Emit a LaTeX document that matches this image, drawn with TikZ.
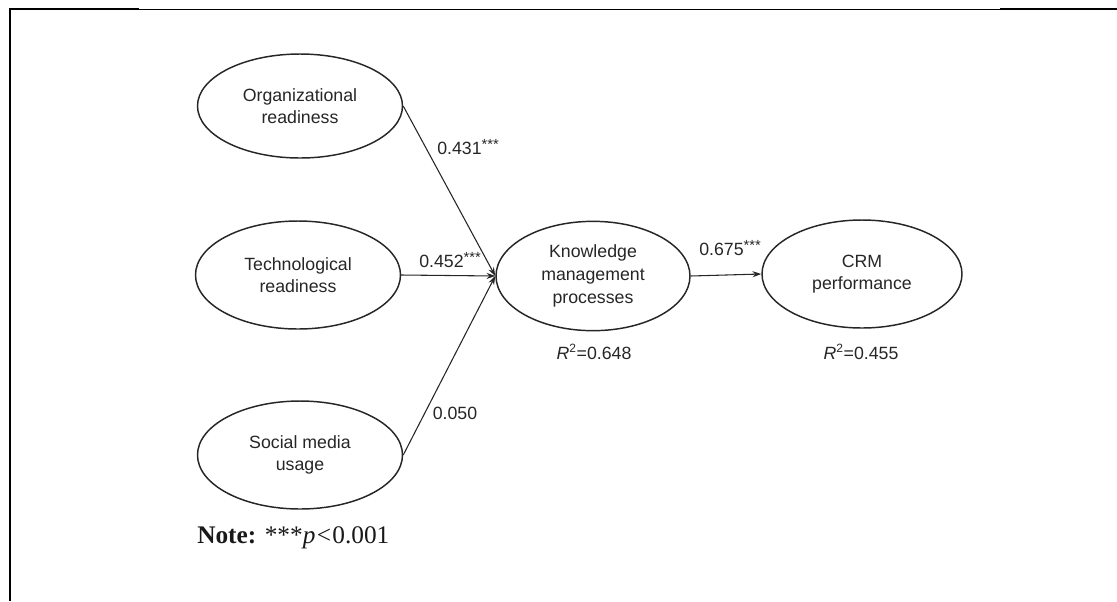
\documentclass[tikz,border=0pt]{standalone}
\usepackage{fontspec}
\setmainfont{Liberation Serif}
\setsansfont{Liberation Sans}
\usetikzlibrary{shapes.geometric,arrows.meta}
\tikzset{
  construct/.style={draw=black!85, line width=1.1pt, ellipse, inner sep=0pt,
    align=center, font=\sffamily\fontsize{13.3pt}{17pt}\selectfont, text=black!85},
  path/.style={draw=black!85, line width=0.8pt, -{Stealth[length=6.5pt,width=4.5pt]}},
  coef/.style={font=\sffamily\fontsize{13.3pt}{16pt}\selectfont, text=black!85, inner sep=0pt},
  frame/.style={line width=2pt, black},
}
\newcommand{\stars}{\raisebox{0.45ex}{\fontsize{11pt}{11pt}\selectfont ***}}
\begin{document}
\begin{tikzpicture}[x=0.75pt,y=-0.75pt]
\useasboundingbox (0,0) rectangle (1117,601);
% frame
\draw[frame] (10,601) -- (10,9) -- (139,9);
\draw[line width=0.6pt] (139,9) -- (1000,9);
\draw[frame] (1000,9) -- (1117,9);
% constructs
\node[construct, minimum width=153.75pt, minimum height=78pt] (org) at (300,106) {Organizational\\readiness};
\node[construct, minimum width=153.75pt, minimum height=81pt] (tech) at (298,275) {Technological\\readiness};
\node[construct, minimum width=153.75pt, minimum height=81pt] (soc) at (300,455) {Social media\\usage};
\node[construct, minimum width=145.5pt, minimum height=82pt] (km) at (593,276) {Knowledge\\management\\processes};
\node[construct, minimum width=150pt, minimum height=81pt] (crm) at (862,274) {CRM\\performance};
% paths
\draw[path] (org.east) -- (km.west);
\draw[path] (tech.east) -- (km.west);
\draw[path] (soc.east) -- (km.west);
\draw[path] (km.east) -- (crm.west);
% coefficients
\node[coef] (c1) at (468,147) {0.431\stars};
\node[coef] (c2) at (450,260) {0.452\stars};
\node[coef] (c3) at (455,413) {0.050};
\node[coef] (c4) at (730,248) {0.675\stars};
\node[coef] (r1) at (594,352) {\textit{R}\textsuperscript{\fontsize{9pt}{9pt}\selectfont 2}=0.648};
\node[coef] (r2) at (861,352) {\textit{R}\textsuperscript{\fontsize{9pt}{9pt}\selectfont 2}=0.455};
% note
\node[anchor=west, inner sep=0pt, font=\fontsize{19pt}{22pt}\selectfont, text=black!90] (note) at (197,538) {\textbf{Note:} ***\textit{p}\kern1pt<\kern1pt0.001};
\end{tikzpicture}
\end{document}
